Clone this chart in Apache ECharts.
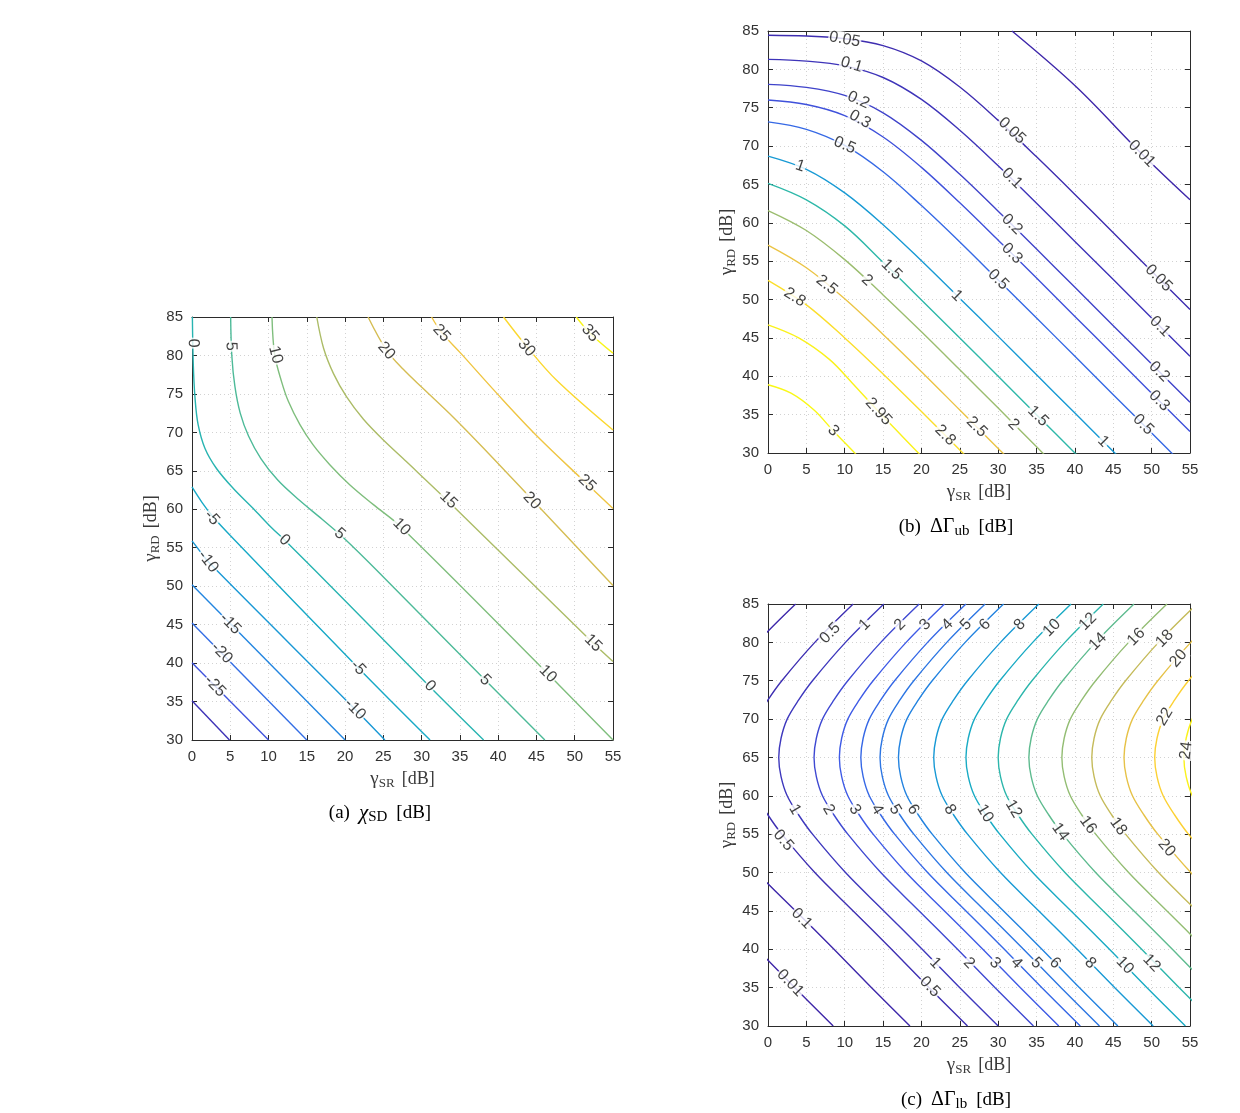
<!DOCTYPE html>
<html><head><meta charset="utf-8">
<script src="https://cdn.jsdelivr.net/npm/echarts@6/dist/echarts.min.js"></script>
<style>html,body{margin:0;padding:0;background:#fff}#c{width:1240px;height:1113px}</style>
</head><body><div id="c"></div>
<script>
// ---------- Panel (a): chi_SD [dB] ----------
const levelsA = [-30,-25,-20,-15,-10,-5,0,5,10,15,20,25,30,35];
const linesA = [
  [[0,35.1],[4.9,30]],
  [[0,40.05],[10,30]],
  [[0,45.2],[15,30]],
  [[0,50.2],[20,30]],
  [[0,55.9],[1,54.6],[2.1,53.2],[21.3,34.0],[25.2,30]],
  [[0,62.9],[1.3,60.9],[2.6,59.2],[5,56.6],[21.7,39.4],[31.1,30]],
  [[0.05,85],[0.17,78.8],[0.4,74.4],[0.8,71],[1.7,67.9],[3.2,65.3],[5.4,62.7],[8.0,60.1],[10.4,57.6],[12.1,56.0],[20,48.1],[31.2,36.8],[38.1,30]],
  [[5.05,85],[5.2,80],[5.6,76],[6.3,72.5],[7.4,69.5],[9,66.6],[11.2,63.8],[14,61.2],[17,58.7],[20,56.1],[25,51.2],[38.3,37.8],[46.1,30]],
  [[10.45,85],[10.8,80.1],[11.7,76.6],[12.6,74.0],[14.1,71.0],[15.8,68.4],[18.0,65.8],[20.6,63.2],[23.7,60.6],[27.2,57.8],[46.5,38.6],[55,30]],
  [[16.3,85],[17.2,80.9],[18.5,77.6],[20.2,74.6],[22.4,71.7],[25,69.0],[28,66.2],[33.5,61.0],[52.4,42.6],[55,40.2]],
  [[23.0,85],[25.4,80.7],[27.6,78.2],[30.2,75.7],[34.1,72.0],[38.9,67.1],[44.4,61.3],[55,50.1]],
  [[31.3,85],[32.6,83.0],[35.1,80.3],[39.8,75.1],[45.0,69.6],[51.6,63.3],[55,60.1]],
  [[40.7,85],[43.7,81.2],[47.6,76.8],[55,70.3]],
  [[50.2,85],[52,82.9],[55,80.3]]
];
const labelsA = [
  ['0',0.15,81.6],['5',5.1,81.2],['10',10.9,80.1],['20',25.4,80.6],['25',32.6,82.9],['30',43.7,81.0],['35',52,82.9],
  ['25',51.6,63.4],['20',44.4,61.1],['15',33.5,61.2],['10',27.4,57.7],['5',19.3,56.8],['0',12.1,56.0],
  ['-5',2.6,58.9],['-10',2.1,53.2],['-15',5.0,45.1],['-20',3.9,41.3],['-25',3.0,37.0],
  ['-5',21.7,39.4],['-10',21.3,34.0],['0',31.1,37.0],['5',38.3,37.8],['10',46.5,38.6],['15',52.4,42.6]
];

// ---------- Panel (b): Delta Gamma_ub [dB] ----------
const levelsB = [0.01,0.05,0.1,0.2,0.3,0.5,1,1.5,2,2.5,2.8,2.95,3];
const linesB = [
  [[31.8,85],[40.2,77.7],[48.7,69.0],[55,63]],
  [[0,84.45],[5,84.34],[10,84.0],[15,83.1],[20,81.1],[25,77.7],[30,73.35],[35,68.6],[40,63.7],[45,58.7],[50,53.7],[55,48.7]],
  [[0,81.3],[5,81.08],[10,80.46],[15,78.94],[20,76.08],[25,72.06],[30,67.43],[35,62.54],[40,57.58],[45,52.6],[50,47.6],[55,42.6]],
  [[0,78.05],[5,77.65],[10,76.6],[15,74.34],[20,70.75],[25,66.32],[30,61.51],[35,56.58],[40,51.6],[45,46.6],[50,41.6],[55,36.6]],
  [[0,76.0],[5,75.42],[10,73.97],[15,71.19],[20,67.23],[25,62.61],[30,57.74],[35,52.8],[40,47.8],[45,42.8],[50,37.8],[55,32.8]],
  [[0,73.15],[5,72.18],[10,70.08],[15,66.65],[20,62.25],[25,57.5],[30,52.55],[35,47.6],[40,42.6],[45,37.6],[50,32.6],[55,27.6]],
  [[0,68.7],[5,66.97],[10,63.9],[15,59.76],[20,55.05],[25,50.15],[30,45.2],[35,40.2],[40,35.2],[45,30.2],[50,25.2]],
  [[0,65.15],[5,63.0],[10,59.6],[15,54.85],[20,49.95],[25,45.0],[30,40.0],[35,35.0],[40,30.0],[45,25.0]],
  [[0,61.6],[5,59.0],[10,55.2],[15,50.6],[20,45.8],[25,40.85],[30,35.85],[35,30.8],[40,25.8]],
  [[0,57.1],[5,54.15],[10,50.1],[15,45.45],[20,40.6],[25,35.6],[30,30.6],[35,25.6]],
  [[0,52.5],[5,49.3],[10,45.0],[15,40.3],[20,35.4],[25,30.4],[30,25.4]],
  [[0,46.7],[4,45.0],[8,42.2],[11,39.1],[14.4,35.4],[19.6,30],[22,27.5]],
  [[0,38.9],[3,37.8],[6,35.6],[8.5,32.9],[11.3,30],[13,28.2]]
];
const labelsB = [
  ['0.05',10,83.9],['0.1',10.9,80.6],['0.2',11.8,76.0],['0.3',12,73.5],['0.5',10,70.1],['1',4.2,67.4],
  ['1.5',16.1,53.9],['2',12.9,52.5],['2.5',7.65,51.9],['2.8',3.5,50.3],
  ['0.05',31.8,72.0],['0.1',31.8,65.8],['0.2',31.8,59.8],['0.3',31.8,56.0],['0.5',30,52.6],['1',24.6,50.5],
  ['0.01',48.7,69.0],['0.05',50.9,52.8],['0.1',51.1,46.5],['0.2',51.0,40.6],['0.3',51.0,36.8],['0.5',48.9,33.7],
  ['1',43.7,31.5],['1.5',35.2,34.8],['2',32.0,33.7],['2.5',27.2,33.4],['2.8',23.1,32.3],['2.95',14.4,35.4],['3',8.5,32.9]
];

// ---------- Panel (c): Delta Gamma_lb [dB] ----------
const levelsC = [0.01,0.1,0.5,1,2,3,4,5,6,8,10,12,14,16,18,20,22,24];
const yC = [85,80,75,72.5,70,67.5,65,62.5,60,57.5,55,50,45,40,35,30];
const xC = [
  [-6.4,-11.4,-15.7,-17.5,-19.0,-19.8,-20.1,-19.8,-19.0,-17.5,-15.7,-11.4,-6.4,-1.4,3.5,8.5],
  [3.6,-1.4,-5.7,-7.5,-9.0,-9.8,-10.1,-9.8,-9.0,-7.5,-5.7,-1.4,3.6,8.6,13.5,18.5],
  [11.1,6.1,1.8,0.0,-1.5,-2.3,-2.6,-2.3,-1.5,0.0,1.8,6.1,11.1,16.1,21.0,26.0],
  [15.1,10.1,5.8,4.0,2.5,1.7,1.4,1.7,2.5,4.0,5.8,10.1,15.1,20.1,25.0,30.0],
  [19.7,14.7,10.4,8.6,7.1,6.3,6.0,6.3,7.1,8.6,10.4,14.7,19.7,24.7,29.6,34.6],
  [23.0,18.0,13.7,11.9,10.4,9.6,9.3,9.6,10.4,11.9,13.7,18.0,23.0,28.0,32.9,37.9],
  [25.8,20.8,16.5,14.7,13.2,12.4,12.1,12.4,13.2,14.7,16.5,20.8,25.8,30.8,35.7,40.7],
  [28.3,23.3,19.0,17.2,15.7,14.9,14.6,14.9,15.7,17.2,19.0,23.3,28.3,33.3,38.2,43.2],
  [30.7,25.7,21.4,19.6,18.1,17.3,17.0,17.3,18.1,19.6,21.4,25.7,30.7,35.7,40.6,45.6],
  [35.3,30.3,26.0,24.2,22.7,21.9,21.6,21.9,22.7,24.2,26.0,30.3,35.3,40.3,45.2,50.2],
  [39.5,34.5,30.2,28.4,26.9,26.1,25.8,26.1,26.9,28.4,30.2,34.5,39.5,44.5,49.4,54.4],
  [43.7,38.7,34.4,32.6,31.1,30.3,30.0,30.3,31.1,32.6,34.4,38.7,43.7,48.7,53.6,58.6],
  [47.7,42.7,38.4,36.6,35.1,34.3,34.0,34.3,35.1,36.6,38.4,42.7,47.7,52.7,57.6,62.6],
  [52.0,47.0,42.7,40.9,39.4,38.6,38.3,38.6,39.4,40.9,42.7,47.0,52.0,57.0,61.9,66.9],
  [55.9,50.9,46.6,44.8,43.3,42.5,42.2,42.5,43.3,44.8,46.6,50.9,55.9,60.9,65.8,70.8],
  [60.1,55.1,50.8,49.0,47.5,46.7,46.4,46.7,47.5,49.0,50.8,55.1,60.1,65.1,70.0,75.0],
  [64.1,59.1,54.8,53.0,51.5,50.7,50.4,50.7,51.5,53.0,54.8,59.1,64.1,69.1,74.0,79.0],
  [67.9,62.9,58.6,56.8,55.3,54.5,54.2,54.5,55.3,56.8,58.6,62.9,67.9,72.9,77.8,82.8]
];
const labelsC = [
  ['0.5',8.1,81.2],['1',12.6,82.3],['2',17.2,82.3],['3',20.5,82.3],['4',23.4,82.3],['5',25.8,82.3],['6',28.3,82.3],['8',32.8,82.3],
  ['10',37.0,81.9],['12',41.7,82.7],['14',43.0,80.1],['16',48.0,80.7],['18',51.7,80.5],['20',53.5,77.9],['22',51.7,70.3],['24',54.5,65.9],
  ['1',3.5,58.2],['2',7.9,58.2],['3',11.3,58.2],['4',14.2,58.2],['5',16.55,58.2],['6',18.9,58.2],['8',23.7,58.2],
  ['10',28.3,57.7],['12',32.0,58.3],['14',38.1,55.3],['16',41.7,56.2],['18',45.65,56.0],['20',51.95,53.2],['0.5',2.0,54.2],
  ['0.1',4.4,44.0],['0.01',2.9,35.6],['1',21.8,38.2],['0.5',21.1,35.1],['2',26.2,38.2],['3',29.6,38.2],['4',32.4,38.2],
  ['5',35.0,38.2],['6',37.4,38.2],['8',42.0,38.2],['10',46.5,37.9],['12',50.0,38.2]
];
const xTickStep = 5, yTickStep = 5;

// ---------- helpers ----------
const parulaStops = ['#3e26a8','#3f5ce8','#2285e0','#12a6cd','#2fb8a8','#84be7a','#d0bb56','#fcc93a','#f9fb15'];
function hex2rgb(h){return [parseInt(h.substr(1,2),16),parseInt(h.substr(3,2),16),parseInt(h.substr(5,2),16)];}
function parula(t){
  t=Math.max(0,Math.min(1,t));
  const n=parulaStops.length-1, p=t*n, i=Math.min(n-1,Math.floor(p)), f=p-i;
  const a=hex2rgb(parulaStops[i]), b=hex2rgb(parulaStops[i+1]);
  return 'rgb('+a.map((v,k)=>Math.round(v+(b[k]-v)*f)).join(',')+')';
}
const grids = [
  {left:192, top:317, width:421, height:423},
  {left:768, top:31, width:422, height:422},
  {left:768, top:604, width:422, height:422}
];
const axisColor = '#2b2b2b';
const serif = "'Liberation Serif','DejaVu Serif',serif";
const sans = "'Liberation Sans','DejaVu Sans',sans-serif";
const nameCol = '#3a3a3a';
const richName = {
  g:{fontFamily:serif, fontSize:19, color:nameCol, lineHeight:22},
  s:{fontFamily:serif, fontSize:13, color:nameCol, lineHeight:22, padding:[9,0,0,0]},
  sp:{width:7},
  t:{fontFamily:serif, fontSize:18, color:nameCol, lineHeight:22}
};
function xAxes(gi){
  return [{
    gridIndex:gi, type:'value', min:0, max:55, interval:xTickStep, position:'bottom',
    axisLine:{show:true, onZero:false, lineStyle:{color:axisColor, width:1}},
    axisTick:{show:true, inside:true, length:5, lineStyle:{color:axisColor}},
    axisLabel:{fontSize:15, color:'#333', fontFamily:sans, margin:9},
    splitLine:{show:true, lineStyle:{color:'#d2d2d2', type:[1,3], width:1}},
    name:'{g|γ}{s|SR}{sp|}{t|[dB]}', nameLocation:'middle', nameGap:28,
    nameTextStyle:{rich:richName}
  },{
    gridIndex:gi, type:'value', min:0, max:55, interval:xTickStep, position:'top',
    axisLine:{show:true, onZero:false, lineStyle:{color:axisColor, width:1}},
    axisTick:{show:true, inside:true, length:5, lineStyle:{color:axisColor}},
    axisLabel:{show:false}, splitLine:{show:false}
  }];
}
function yAxes(gi){
  return [{
    gridIndex:gi, type:'value', min:30, max:85, interval:yTickStep, position:'left',
    axisLine:{show:true, onZero:false, lineStyle:{color:axisColor, width:1}},
    axisTick:{show:true, inside:true, length:5, lineStyle:{color:axisColor}},
    axisLabel:{fontSize:15, color:'#333', fontFamily:sans, margin:9},
    splitLine:{show:true, lineStyle:{color:'#d2d2d2', type:[1,3], width:1}},
    name:'{g|γ}{s|RD}{sp|}{t|[dB]}', nameLocation:'middle', nameGap:30,
    nameTextStyle:{rich:richName}
  },{
    gridIndex:gi, type:'value', min:30, max:85, interval:yTickStep, position:'right',
    axisLine:{show:true, onZero:false, lineStyle:{color:axisColor, width:1}},
    axisTick:{show:true, inside:true, length:5, lineStyle:{color:axisColor}},
    axisLabel:{show:false}, splitLine:{show:false}
  }];
}
function contourSeries(levels, lines, lo, hi, ai){
  return lines.map((pts,i)=>({
    type:'line', xAxisIndex:ai, yAxisIndex:ai, data:pts, symbol:'none', showSymbol:false,
    smooth:0.35, clip:true, silent:true, z:2,
    lineStyle:{color:parula((levels[i]-lo)/(hi-lo)), width:1.4}
  }));
}
function labelSeries(levels, lines, labels, ai, grid){
  const sx = grid.width/55, sy = grid.height/55;
  const data = labels.map(([txt,lx,ly])=>{
    const li = levels.indexOf(parseFloat(txt));
    const pts = lines[li];
    let best=null;
    for(let k=0;k<pts.length-1;k++){
      const [x1,y1]=pts[k],[x2,y2]=pts[k+1];
      const dx=(x2-x1)*sx, dy=(y2-y1)*sy;
      const px=(lx-x1)*sx, py=(ly-y1)*sy;
      const L2=dx*dx+dy*dy; let u=L2>0?(px*dx+py*dy)/L2:0; u=Math.max(0,Math.min(1,u));
      const ex=px-u*dx, ey=py-u*dy, d=ex*ex+ey*ey;
      if(!best||d<best.d) best={d, ang:Math.atan2(dy,dx)*180/Math.PI};
    }
    let a=best.ang; if(a>90)a-=180; if(a<-90)a+=180;
    return {value:[lx,ly], label:{formatter:txt, rotate:a}};
  });
  return {
    type:'scatter', xAxisIndex:ai, yAxisIndex:ai, symbolSize:1, silent:true, z:5,
    itemStyle:{color:'rgba(0,0,0,0)'},
    label:{show:true, position:'inside', fontSize:16, fontFamily:sans, color:'#111',
      backgroundColor:'#ffffff', padding:[0,1,0,1], lineHeight:15},
    labelLayout:{hideOverlap:false},
    data
  };
}
function linesC_build(){ return xC.map(row=>row.map((x,j)=>[x,yC[j]])); }
const linesC = linesC_build();
const capRich = {
  t:{fontFamily:serif, fontSize:19, color:'#111', lineHeight:24},
  g:{fontFamily:serif, fontSize:21, fontStyle:'italic', color:'#111', lineHeight:24},
  u:{fontFamily:serif, fontSize:20, color:'#111', lineHeight:24},
  s:{fontFamily:serif, fontSize:15, color:'#111', lineHeight:24, padding:[9,0,0,0]},
  sp:{width:9}
};
const chart = echarts.init(document.getElementById('c'), null, {renderer:'canvas'});
chart.setOption({
  animation:false,
  backgroundColor:'#ffffff',
  grid: grids,
  xAxis: [...xAxes(0), ...xAxes(1), ...xAxes(2)],
  yAxis: [...yAxes(0), ...yAxes(1), ...yAxes(2)],
  series: [
    ...contourSeries(levelsA, linesA, -32, 36, 0),
    ...contourSeries(levelsB, linesB, 0, 3.02, 2),
    ...contourSeries(levelsC, linesC, 0, 24.6, 4),
    labelSeries(levelsA, linesA, labelsA, 0, grids[0]),
    labelSeries(levelsB, linesB, labelsB, 2, grids[1]),
    labelSeries(levelsC, linesC, labelsC, 4, grids[2])
  ],
  graphic: [
    {type:'text', x:380, y:813, style:{text:'{t|(a)}{sp|}{g|χ}{s|SD}{sp|}{t|[dB]}', align:'center', verticalAlign:'middle', rich:capRich}},
    {type:'text', x:956, y:527, style:{text:'{t|(b)}{sp|}{u|ΔΓ}{s|ub}{sp|}{t|[dB]}', align:'center', verticalAlign:'middle', rich:capRich}},
    {type:'text', x:956, y:1100, style:{text:'{t|(c)}{sp|}{u|ΔΓ}{s|lb}{sp|}{t|[dB]}', align:'center', verticalAlign:'middle', rich:capRich}}
  ]
});
</script>
</body></html>
